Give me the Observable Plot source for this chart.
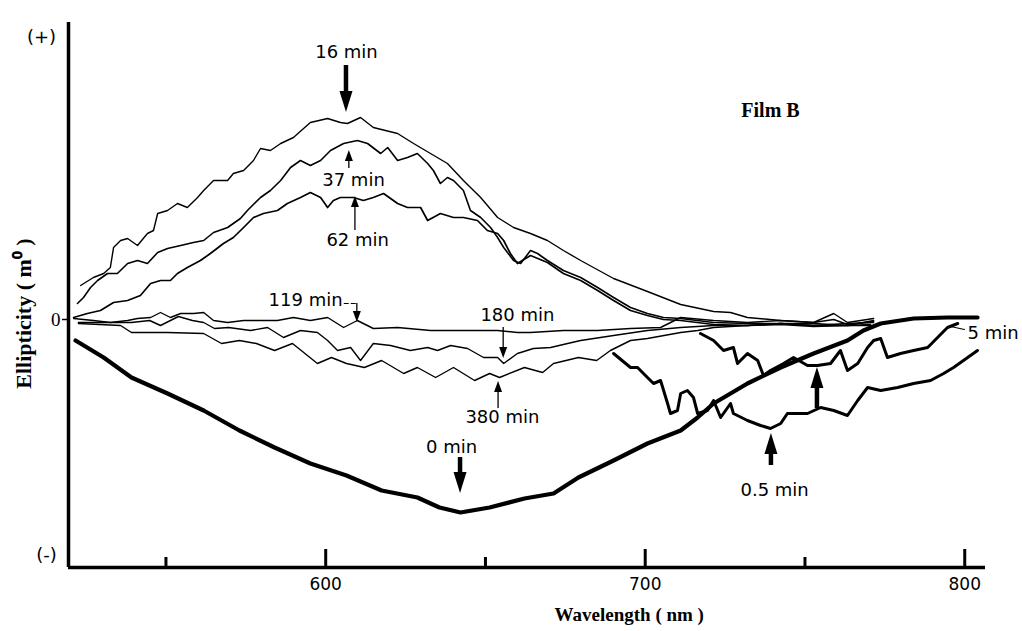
<!DOCTYPE html>
<html><head><meta charset="utf-8">
<script src="https://cdn.jsdelivr.net/npm/d3@7"></script>
<script src="https://cdn.jsdelivr.net/npm/@observablehq/plot@0.6"></script>
<style>html,body{margin:0;padding:0;background:#fff}#chart svg{display:block}</style>
</head><body><div id="chart"></div>
<script>
// ---- data: [wavelength nm, ellipticity (arbitrary m° units)] ----
const min0 = [[521.7,-2.1],[530.5,-3.8],[539.2,-5.8],[550.5,-7.4],[561.8,-9.1],[573.0,-11.1],[584.0,-12.8],[595.2,-14.4],[606.5,-15.6],[617.5,-17.1],[628.7,-17.8],[635.6,-18.8],[642.2,-19.3],[651.3,-18.8],[662.2,-17.9],[671.3,-17.4],[679.1,-15.8],[690.1,-14.1],[700.7,-12.4],[711.1,-11.1],[716.4,-9.8],[721.4,-8.4],[732.0,-6.4],[742.4,-4.8],[752.7,-3.4],[763.3,-2.1],[768.3,-1.1],[773.7,-0.4],[784.0,0.1],[794.6,0.2],[804.0,0.2]];
const min05 = [[690.1,-3.4],[695.4,-4.8],[697.6,-4.8],[700.7,-5.8],[702.6,-6.4],[704.8,-6.1],[707.0,-8.4],[707.9,-9.4],[710.1,-9.1],[711.1,-7.4],[713.2,-7.1],[715.1,-7.8],[716.4,-9.4],[719.5,-9.1],[721.4,-8.1],[723.6,-9.8],[726.7,-8.4],[727.6,-9.4],[732.0,-10.1],[736.1,-10.6],[739.2,-10.9],[742.4,-10.4],[744.5,-9.4],[750.8,-9.4],[754.9,-8.8],[759.0,-9.1],[763.3,-9.6],[766.5,-8.1],[769.6,-6.8],[773.7,-7.1],[779.0,-6.8],[784.0,-6.4],[789.3,-6.1],[793.4,-5.4],[796.5,-4.8],[799.6,-4.1],[804.0,-3.1]];
const min5 = [[717.3,-1.4],[721.4,-2.1],[724.5,-3.1],[727.6,-2.8],[728.9,-4.4],[732.0,-3.4],[735.2,-4.1],[737.0,-5.6],[739.2,-5.1],[743.3,-4.4],[746.4,-3.8],[750.8,-4.6],[753.9,-4.6],[758.0,-4.4],[761.1,-3.1],[763.3,-5.1],[766.5,-4.4],[769.6,-2.8],[771.5,-2.1],[773.7,-1.9],[775.8,-3.8],[779.9,-3.4],[784.0,-3.1],[788.4,-2.8],[791.5,-1.8],[794.6,-0.8],[797.8,-0.4]];
const min16 = [[523.3,3.4],[527.3,4.2],[530.5,4.6],[532.6,5.2],[533.6,7.2],[535.8,7.9],[538.0,8.1],[541.1,7.4],[544.2,8.6],[546.1,8.9],[547.4,10.6],[550.5,10.9],[553.6,11.6],[556.7,11.2],[559.9,12.2],[561.8,12.9],[564.9,13.9],[569.3,13.9],[571.1,14.6],[574.3,14.9],[577.4,15.9],[579.6,17.1],[582.7,16.9],[585.9,17.6],[589.9,18.2],[595.2,19.7],[600.6,20.1],[604.6,19.7],[606.8,19.6],[610.9,20.2],[614.9,19.2],[622.5,18.6],[627.5,17.6],[632.8,16.6],[638.1,15.6],[643.1,13.9],[648.5,12.2],[653.8,10.2],[658.8,9.2],[664.1,8.6],[669.4,7.9],[674.4,6.9],[679.8,5.9],[690.1,4.1],[700.7,2.8],[711.1,1.5],[721.4,0.8],[726.7,0.7],[732.0,0.2],[742.4,-0.1],[752.7,-0.3],[759.0,0.0],[763.3,-0.5],[771.5,-0.2]];
const min37 = [[522.3,1.6],[524.2,2.2],[526.4,3.2],[528.6,3.9],[531.7,4.6],[534.8,4.6],[538.0,5.6],[541.1,5.9],[544.2,5.6],[547.4,6.7],[550.5,7.1],[554.6,7.4],[558.6,7.7],[561.8,7.9],[564.9,8.7],[569.3,9.2],[573.3,10.1],[575.5,10.9],[579.6,12.2],[582.7,12.9],[585.9,13.9],[589.0,15.2],[592.1,15.9],[595.2,15.4],[598.4,15.9],[601.5,16.9],[605.6,17.6],[609.9,17.9],[613.1,17.6],[617.2,16.6],[619.4,17.2],[622.5,15.9],[625.6,16.2],[628.7,16.6],[631.9,15.6],[633.7,14.9],[635.9,13.6],[638.1,14.2],[640.0,13.9],[643.1,12.9],[645.3,10.9],[648.5,10.2],[651.6,9.2],[653.8,8.2],[655.7,7.2],[658.8,5.9],[661.0,5.6],[664.1,6.9],[666.3,6.6],[669.4,5.9],[674.4,4.9],[679.8,4.2],[685.1,3.2],[690.1,2.2],[695.4,1.2],[700.7,0.6],[705.7,0.2],[711.1,0.1],[721.4,-0.3],[732.0,-0.4],[742.4,-0.4],[752.7,-0.6],[763.3,-0.6],[770.5,-0.6]];
const min62 = [[521.1,0.2],[525.4,0.6],[529.5,0.9],[533.6,1.7],[538.0,1.9],[542.0,2.4],[545.2,3.6],[548.3,3.9],[551.4,3.9],[553.6,4.6],[556.7,5.2],[560.8,5.9],[563.9,6.6],[568.0,7.6],[571.1,8.2],[574.3,9.2],[577.4,10.2],[580.5,10.6],[584.9,10.9],[588.0,11.6],[592.1,12.2],[595.2,12.7],[598.4,12.2],[600.6,11.2],[602.4,11.9],[604.6,12.2],[608.7,12.2],[611.8,11.9],[614.9,12.2],[618.1,12.6],[622.5,11.6],[625.6,11.2],[629.7,11.2],[631.9,9.9],[635.9,10.6],[640.0,10.2],[643.1,10.2],[647.5,9.9],[650.6,8.9],[653.8,8.6],[655.7,7.9],[657.8,6.6],[660.0,5.6],[664.1,6.4],[669.4,5.7],[674.4,4.6],[679.8,3.9],[685.1,2.9],[690.1,1.9],[695.4,0.9],[700.7,0.4],[705.7,0.0],[711.1,-0.1],[721.4,-0.5],[732.0,-0.6],[742.4,-0.5],[752.7,-0.7],[763.3,-0.6],[770.5,-0.5]];
const min119 = [[521.1,0.1],[527.3,-0.1],[532.6,-0.3],[538.0,-0.1],[541.1,0.1],[545.2,0.2],[548.3,0.7],[551.4,0.2],[554.6,0.6],[558.6,0.6],[561.8,0.7],[564.9,-0.1],[569.3,-0.3],[574.3,-0.1],[579.6,-0.1],[584.9,-0.1],[589.9,0.2],[595.2,-0.1],[600.6,0.2],[605.6,-0.8],[609.9,-0.1],[614.9,-0.9],[622.5,-0.8],[632.8,-1.1],[643.1,-1.1],[653.8,-1.1],[660.0,-1.3],[664.1,-1.3],[674.4,-1.1],[685.1,-1.1],[695.4,-0.9],[704.8,-0.8],[711.1,0.2],[721.4,-0.1],[732.0,-0.3],[742.4,-0.1],[752.7,-0.3],[759.0,0.6],[763.3,-0.3],[771.5,0.1]];
const min180 = [[522.6,-0.3],[533.9,-0.3],[539.2,-0.3],[544.9,-0.1],[548.3,-0.6],[553.9,0.3],[558.3,-0.1],[561.8,-0.3],[565.2,-0.9],[569.6,-0.8],[576.5,-1.1],[581.8,-0.8],[586.8,-1.8],[592.1,-1.1],[597.4,-1.3],[600.6,-2.1],[603.7,-3.1],[607.8,-2.8],[610.9,-4.1],[614.9,-2.4],[620.3,-2.6],[626.5,-3.1],[631.9,-2.8],[635.0,-3.1],[639.1,-2.6],[644.4,-2.9],[649.4,-3.8],[653.8,-3.8],[655.7,-4.4],[660.0,-3.4],[665.0,-2.9],[670.4,-2.8],[675.7,-2.4],[679.8,-2.1],[690.1,-1.6],[700.7,-1.1],[711.1,-0.8],[721.4,-0.6],[732.0,-0.6],[742.4,-0.4],[752.7,-0.4],[763.3,-0.6],[771.5,-0.1]];
const min380 = [[522.6,-0.4],[535.8,-0.6],[539.2,-1.3],[550.5,-1.3],[561.8,-1.4],[567.4,-2.4],[573.0,-2.1],[578.3,-2.4],[584.0,-3.1],[589.6,-2.4],[597.4,-4.4],[601.8,-3.8],[606.5,-4.4],[612.1,-4.8],[617.5,-4.1],[624.4,-5.4],[628.7,-4.8],[634.4,-5.8],[640.0,-4.8],[646.6,-6.1],[651.3,-5.4],[654.4,-5.8],[662.2,-4.8],[667.9,-5.3],[671.3,-4.4],[679.1,-3.8],[684.8,-4.1],[689.1,-3.1],[695.4,-2.1],[700.7,-1.9],[711.1,-1.3],[716.4,-1.1],[721.4,-0.8],[732.0,-0.6],[742.4,-0.4],[752.7,-0.6],[763.3,-0.4],[771.5,-0.3]];

const xDomain = [519.5, 806.5];
const yDomain = [-24.8, 29.7];
const majorTicks = [600, 700, 800];
const minorTicks = [550, 650, 750];

// annotation labels (text at data coordinates)
const labels = [
  {x: 606.5, y: 26.7, text: "16 min"},
  {x: 608.7, y: 13.9, text: "37 min"},
  {x: 610.0, y: 7.9, text: "62 min"},
  {x: 660.0, y: 0.4, text: "180 min"},
  {x: 655.3, y: -9.8, text: "380 min"},
  {x: 639.4, y: -12.8, text: "0 min"},
  {x: 740.5, y: -17.1, text: "0.5 min"}
];
const label119 = {x: 605.3, y: 1.9, text: "119 min"};
const label5 = {x: 800.9, y: -1.4, text: "5 min"};
const filmLabel = {x: 739.2, y: 20.9, text: "Film B"};

// arrows: x, tail value, tip value
const heavyArrows = [
  {x: 606.5, from: 25.4, to: 20.7},
  {x: 642.2, from: -13.8, to: -17.4},
  {x: 739.5, from: -14.6, to: -11.4},
  {x: 753.9, from: -8.9, to: -4.8}
];
const lightArrows = [
  {x: 607.4, from: 15.1, to: 16.9},
  {x: 609.3, from: 8.9, to: 12.3},
  {x: 655.7, from: -0.8, to: -3.9},
  {x: 654.1, from: -8.9, to: -6.2},
  {x: 609.9, from: 1.6, to: -0.3}
];
const hook119 = [[605.8, 1.6], [609.9, 1.6]];
const leader5 = [[795.6, -0.7], [799.9, -1.0]];

const series = [
  {name: "0 min", data: min0, w: 4.2},
  {name: "0.5 min", data: min05, w: 3},
  {name: "5 min", data: min5, w: 3},
  {name: "16 min", data: min16, w: 1.4},
  {name: "37 min", data: min37, w: 1.6},
  {name: "62 min", data: min62, w: 1.7},
  {name: "119 min", data: min119, w: 1.4},
  {name: "180 min", data: min180, w: 1.4},
  {name: "380 min", data: min380, w: 1.4}
];

const SANS = "DejaVu Sans, Verdana, sans-serif";
const SERIF = "Liberation Serif, Times New Roman, serif";

function arrowMark(list, shaft, headW, headL) {
  return (index, scales) => {
    const g = d3.create("svg:g");
    for (const a of list) {
      const x = scales.x(a.x), y1 = scales.y(a.from), y2 = scales.y(a.to);
      const dir = Math.sign(y2 - y1);
      const yb = y2 - dir * headL;
      g.append("line").attr("x1", x).attr("x2", x).attr("y1", y1).attr("y2", yb)
        .attr("stroke", "#000").attr("stroke-width", shaft);
      g.append("path").attr("d", `M${x - headW / 2},${yb}L${x + headW / 2},${yb}L${x},${y2}Z`).attr("fill", "#000");
    }
    return g.node();
  };
}

const marks = [];
for (const s of series) {
  marks.push(Plot.line(s.data, {x: d => d[0], y: d => d[1], stroke: "#000", strokeWidth: s.w, strokeLinejoin: "round", strokeLinecap: "round"}));
}
marks.push(
  // axes lines
  Plot.ruleX([xDomain[0]], {y1: yDomain[0], y2: yDomain[1], strokeWidth: 3.5}),
  Plot.ruleY([yDomain[0]], {x1: xDomain[0], x2: xDomain[1], strokeWidth: 3.5}),
  // inward ticks
  Plot.ruleX(majorTicks, {x: d => d, y1: yDomain[0], y2: yDomain[0] + 1.8, strokeWidth: 3}),
  Plot.ruleX(minorTicks, {x: d => d, y1: yDomain[0], y2: yDomain[0] + 1.0, strokeWidth: 3}),
  Plot.axisX({ticks: majorTicks, tickSize: 0, tickPadding: 10, fontSize: 17, fontFamily: SANS, label: null}),
  Plot.axisY({ticks: [0], tickSize: 6, tickPadding: 2, fontSize: 19, fontFamily: SERIF, label: null, strokeWidth: 1.5}),
  Plot.text(["(+)"], {frameAnchor: "top-left", dx: -27, dy: 8, textAnchor: "middle", text: d => d, fontSize: 18, fontFamily: SANS}),
  Plot.text(["(-)"], {frameAnchor: "bottom-left", dx: -22, dy: -7, textAnchor: "middle", text: d => d, fontSize: 18, fontFamily: SANS}),
  Plot.text(["Wavelength ( nm )"], {x: 695, frameAnchor: "bottom", dy: 53, textAnchor: "middle", text: d => d, fontSize: 19, fontWeight: "bold", fontFamily: SERIF}),
  Plot.text(["Ellipticity ( m\u2070 )"], {y: 0.6, frameAnchor: "left", dx: -45, rotate: -90, textAnchor: "middle", text: d => d, fontSize: 22, fontWeight: "bold", fontFamily: SERIF}),
  // annotations
  Plot.text(labels, {x: "x", y: "y", text: "text", fontSize: 18, fontFamily: SANS}),
  Plot.text([label119], {x: "x", y: "y", text: "text", textAnchor: "end", fontSize: 18, fontFamily: SANS}),
  Plot.text([label5], {x: "x", y: "y", text: "text", textAnchor: "start", fontSize: 18, fontFamily: SANS}),
  Plot.text([filmLabel], {x: "x", y: "y", text: "text", fontSize: 20, fontWeight: "bold", fontFamily: SERIF}),
  Plot.line(hook119, {x: d => d[0], y: d => d[1], strokeWidth: 1.2, strokeDasharray: "4,3"}),
  Plot.line(leader5, {x: d => d[0], y: d => d[1], strokeWidth: 1.2}),
  arrowMark(heavyArrows, 4.5, 13, 21),
  arrowMark(lightArrows, 1.3, 8, 11)
);

const chart = Plot.plot({
  width: 1022,
  height: 631,
  marginLeft: 68,
  marginRight: 37,
  marginTop: 22,
  marginBottom: 64,
  x: {domain: xDomain, axis: null},
  y: {domain: yDomain, axis: null},
  style: {background: "#fff", color: "#000", overflow: "visible"},
  marks
});
document.getElementById("chart").appendChild(chart);
</script>
</body></html>
